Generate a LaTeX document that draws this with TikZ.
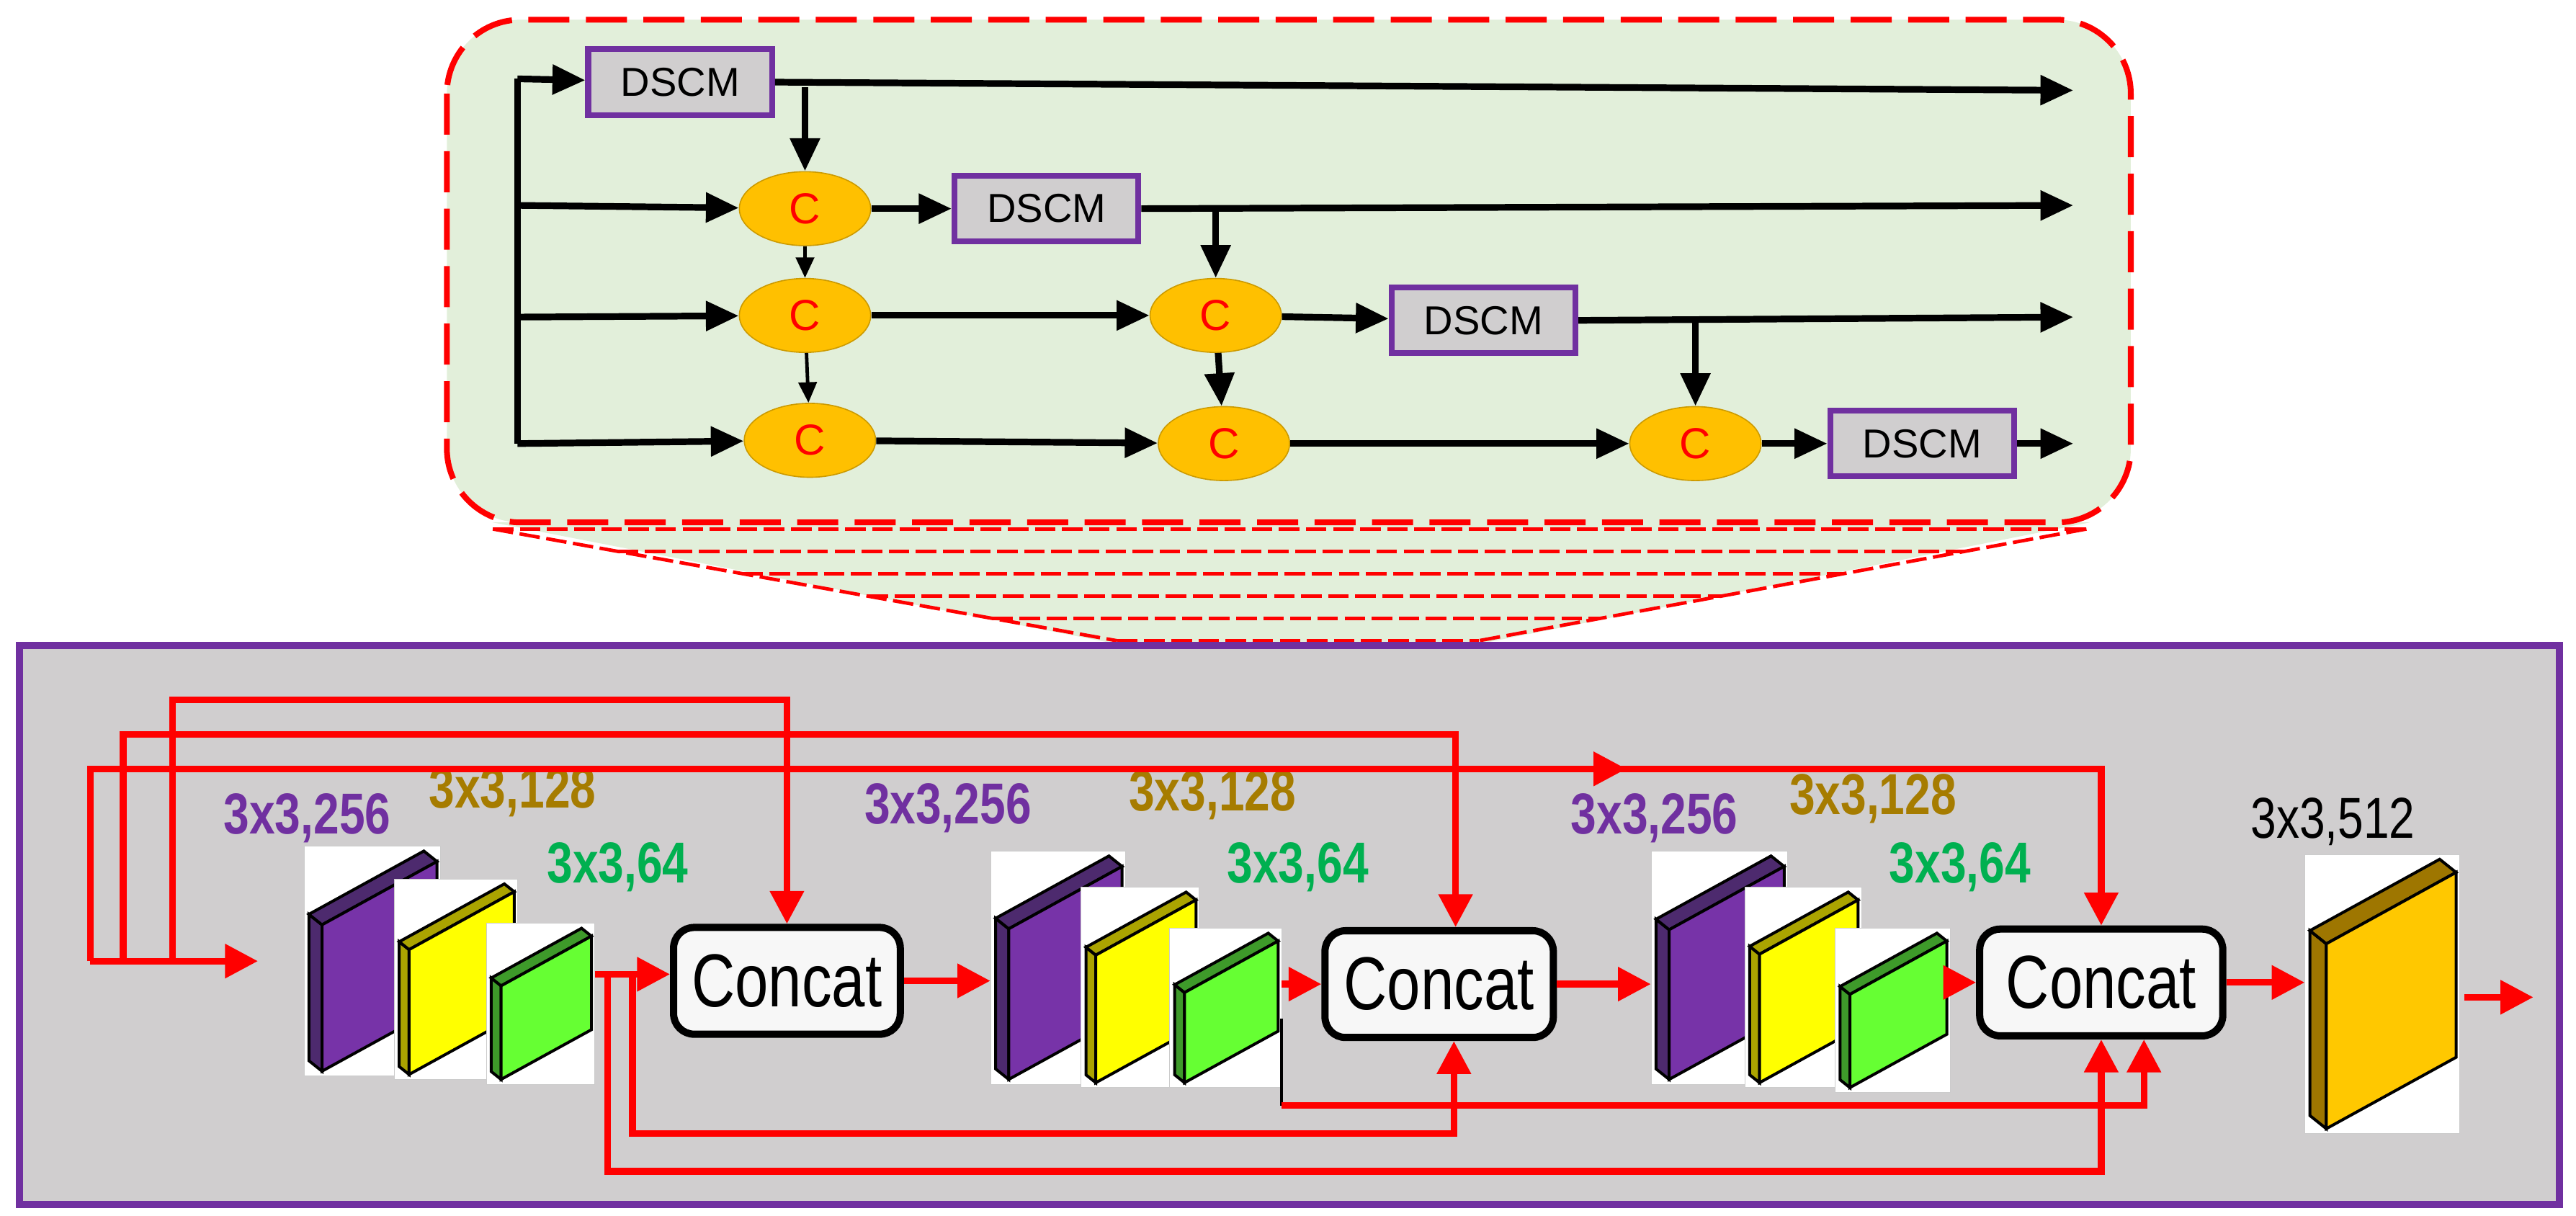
\documentclass[tikz,border=0pt]{standalone}
\usepackage{fontspec}
\setmainfont{Liberation Sans}
\newfontfamily\narrowfont{Liberation Sans}[FakeStretch=0.8]
\usetikzlibrary{arrows.meta,fit,shapes.geometric}

\definecolor{boxgreen}{HTML}{E2EFDA}
\definecolor{panelgray}{HTML}{D0CECF}
\definecolor{frame}{HTML}{7030A0}
\definecolor{cgold}{HTML}{FFC000}
\definecolor{pur}{HTML}{7733A8}
\definecolor{purdark}{HTML}{4D2A6E}
\definecolor{yel}{HTML}{FFFF00}
\definecolor{yeldark}{HTML}{ABA400}
\definecolor{grn}{HTML}{66FF33}
\definecolor{grndark}{HTML}{3E9A2A}
\definecolor{fin}{HTML}{FFC800}
\definecolor{findark}{HTML}{9E7600}
\definecolor{lblpur}{HTML}{7030A0}
\definecolor{lblbrown}{HTML}{A67C00}
\definecolor{lblgreen}{HTML}{00B050}

\tikzset{
  dscm/.style={rectangle, draw=frame, fill=panelgray, line width=2pt, minimum width=2.24cm, minimum height=0.8cm, font=\fontsize{14}{16}\selectfont},
  cnode/.style={ellipse, draw=cgold!80!black, line width=0.4pt, fill=cgold, minimum width=1.6cm, minimum height=0.9cm, text=red, font=\fontsize{15}{17}\selectfont},
  concat/.style={rectangle, rounded corners=0.25cm, draw=black, line width=2.5pt, fill=white!97!black, minimum height=1.3cm, font=\narrowfont\fontsize{26}{28}\selectfont},
  blk/.style={line width=2.3pt, -{Triangle[length=0.4cm,width=0.35cm]}},
  blkthin/.style={line width=1.2pt, -{Triangle[length=0.25cm,width=0.22cm]}},
  rline/.style={red, line width=2.3pt},
  rarrow/.style={rline, -{Triangle[length=0.4cm,width=0.4cm]}},
  lbl/.style={font=\narrowfont\bfseries\fontsize{20}{22}\selectfont}
}

% slab: name, x0, y0, x1, y1, colour, depth
\newcommand{\slab}[7]{%
  \path (#2,#3) coordinate (#1a) (#4,#5) coordinate (#1b);
  \node[fit=(#1a)(#1b), inner sep=0pt, fill=white, draw=gray!40, line width=0.2pt] (#1) {};
  \pgfmathsetmacro\sxa{#2+#7+3}
  \pgfmathsetmacro\sxb{#4-2}
  \pgfmathsetmacro\syr{#3+0.8*#7+3}
  \pgfmathsetmacro\syl{\syr+0.55*(\sxb-\sxa)}
  \pgfmathsetmacro\syb{#5-3}
  \pgfmathsetmacro\sybr{\syb-(\syl-\syr)}
  \pgfmathsetmacro\sdx{#7}
  \pgfmathsetmacro\sdy{0.8*#7}
  \filldraw[fill=#6dark, line width=1pt] (\sxa,\syl) -- ++(-\sdx,-\sdy) -- (\sxa-\sdx,\syb-\sdy) -- (\sxa,\syb) -- cycle;
  \filldraw[fill=#6dark, line width=1pt] (\sxa,\syl) -- (\sxb,\syr) -- ++(-\sdx,-\sdy) -- (\sxa-\sdx,\syl-\sdy) -- cycle;
  \filldraw[fill=#6, line width=1pt] (\sxa,\syl) -- (\sxb,\syr) -- (\sxb,\sybr) -- (\sxa,\syb) -- cycle;
}

\begin{document}
\begin{tikzpicture}[x=0.02cm, y=-0.02cm]
\useasboundingbox (0,0) rectangle (1568,740);

% zoom funnel
\fill[boxgreen] (300,318) -- (1272,318) -- (900,392) -- (680,392) -- cycle;
\foreach \f in {0,0.2,0.4,0.6,0.8,1}
  \draw[red, line width=1.2pt, dash pattern=on 0.25cm off 0.08cm] ({300+380*\f},{322+68*\f}) -- ({1270-370*\f},{322+68*\f});
\draw[red, line width=1.2pt, dash pattern=on 0.25cm off 0.08cm] (300,322) -- (680,390) (1270,322) -- (900,390);

% upper block
\draw[red, fill=boxgreen, line width=2pt, dash pattern=on 0.5cm off 0.2cm, rounded corners=0.9cm] (272,12) rectangle (1297,318);

\node[dscm] (d1) at (414,50) {DSCM};
\node[dscm] (d2) at (637,127) {DSCM};
\node[dscm] (d3) at (903,195) {DSCM};
\node[dscm] (d4) at (1170,270) {DSCM};

\node[cnode] (c11) at (490,127) {C};
\node[cnode] (c21) at (490,192) {C};
\node[cnode] (c22) at (740,192) {C};
\node[cnode] (c31) at (493,268) {C};
\node[cnode] (c32) at (745,270) {C};
\node[cnode] (c33) at (1032,270) {C};

\coordinate (bus1) at (315,48);
\coordinate (bus2) at (315,125);
\coordinate (bus3) at (315,193);
\coordinate (bus4) at (315,270);
\coordinate (o1) at (1262,55);
\coordinate (o2) at (1262,125);
\coordinate (o3) at (1262,193);
\coordinate (o4) at (1262,270);
\coordinate (j1) at (490,53);
\coordinate (j2) at (740,126);
\coordinate (j3) at (1032,194);

\draw[line width=2.3pt] (bus1) -- (bus4);
\draw[blk] (bus1) -- (d1);
\draw[blk] (bus2) -- (c11);
\draw[blk] (bus3) -- (c21);
\draw[blk] (bus4) -- (c31);

\draw[blk] (d1.east) -- (o1);
\draw[blk] (j1) -- (c11.north);
\draw[blk] (c11) -- (d2);
\draw[blk] (d2.east) -- (o2);
\draw[blk] (j2) -- (c22.north);
\draw[blkthin] (c11) -- (c21);
\draw[blk] (c21) -- (c22);
\draw[blk] (c22) -- (d3);
\draw[blk] (d3.east) -- (o3);
\draw[blk] (j3) -- (c33.north);
\draw[blkthin] (c21) -- (c31);
\draw[blk] (c22) -- (c32);
\draw[blk] (c31) -- (c32);
\draw[blk] (c32) -- (c33);
\draw[blk] (c33) -- (d4);
\draw[blk] (d4) -- (o4);

% lower block
\draw[frame, fill=panelgray, line width=2.5pt] (12,393) rectangle (1558,733);

\slab{g1p}{185}{515}{268}{655}{pur}{8}
\slab{g1y}{240}{535}{315}{657}{yel}{6}
\slab{g1g}{296}{562}{362}{660}{grn}{6}
\slab{g2p}{603}{518}{685}{660}{pur}{8}
\slab{g2y}{658}{540}{730}{662}{yel}{6}
\slab{g2g}{712}{565}{780}{662}{grn}{6}
\slab{g3p}{1005}{518}{1088}{660}{pur}{8}
\slab{g3y}{1062}{540}{1133}{662}{yel}{6}
\slab{g3g}{1117}{565}{1187}{665}{grn}{6}
\slab{fs}{1403}{520}{1497}{690}{fin}{10}

\node[lbl, text=lblpur] (l1a) at (187,498) {3x3,256};
\node[lbl, text=lblbrown] (l1b) at (312,482) {3x3,128};
\node[lbl, text=lblgreen] (l1c) at (376,528) {3x3,64};
\node[lbl, text=lblpur] (l2a) at (577,492) {3x3,256};
\node[lbl, text=lblbrown] (l2b) at (738,484) {3x3,128};
\node[lbl, text=lblgreen] (l2c) at (790,528) {3x3,64};
\node[lbl, text=lblpur] (l3a) at (1007,498) {3x3,256};
\node[lbl, text=lblbrown] (l3b) at (1140,486) {3x3,128};
\node[lbl, text=lblgreen] (l3c) at (1193,528) {3x3,64};
\node[font=\narrowfont\fontsize{20}{22}\selectfont] (l4) at (1420,500) {3x3,512};

\node[concat, minimum width=2.76cm] (cc1) at (479,597) {Concat};
\node[concat, minimum width=2.78cm] (cc2) at (876,599) {Concat};
\node[concat, minimum width=2.96cm] (cc3) at (1279,598) {Concat};

\coordinate (a1) at (105,585);
\coordinate (a2) at (75,585);
\coordinate (a3) at (55,585);
\coordinate (ain) at (157,585);
\coordinate (t1) at (105,426);
\coordinate (t2) at (75,447);
\coordinate (t3) at (55,468);
\coordinate (tm) at (990,468);
\coordinate (s1) at (370,593);
\coordinate (s2) at (385,593);
\coordinate (s1b) at (370,713);
\coordinate (s2b) at (385,690);
\coordinate (k1) at (780,620);
\coordinate (k2) at (780,673);
\coordinate (out) at (1542,607);

\draw[rarrow] (a3) -- (ain);
\draw[rarrow] (a1) -- (t1) -| (cc1.north);
\draw[rarrow] (a2) -- (t2) -| ([xshift=0.2cm]cc2.north);
\draw[rarrow] (a3) -- (t3) -| (cc3.north);
\draw[rarrow] (t3) -- (tm);

\draw[rarrow] (g1g.east |- s1) -- (cc1.west |- s1);
\draw[rarrow] (s1) -- (s1b) -| (cc3.south);
\draw[rarrow] (s2) -- (s2b) -| ([xshift=0.18cm]cc2.south);
\draw[rarrow] (cc1.east) -- (g2p.west |- cc1.east);

\draw[rarrow] (g2g.east |- cc2.west) -- (cc2.west);
\draw[line width=1pt] (k1) -- (k2);
\draw[rarrow] (k2) -| ([xshift=0.52cm]cc3.south);
\draw[rarrow] (cc2.east) -- (g3p.west |- cc2.east);

\draw[rarrow] (g3g.east |- cc3.west) -- (cc3.west);
\draw[rarrow] (cc3.east) -- (fs.west |- cc3.east);
\draw[rarrow] ([xshift=0.06cm]fs.east |- out) -- (out);
\end{tikzpicture}
\end{document}
